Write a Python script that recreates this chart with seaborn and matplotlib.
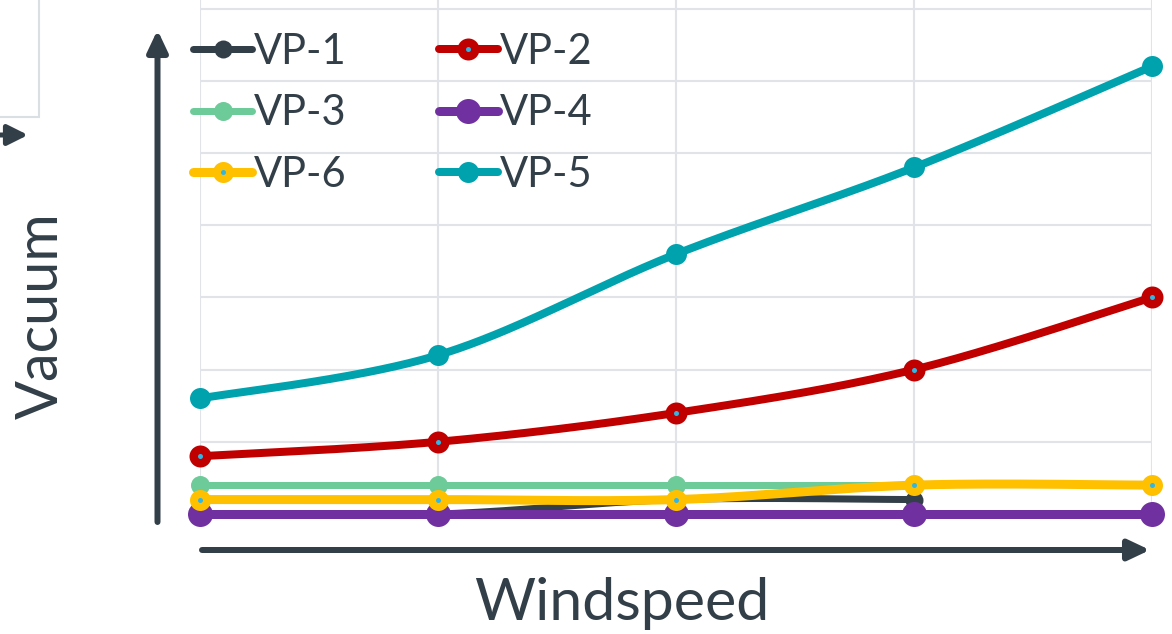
import numpy as np
import matplotlib
matplotlib.use("Agg")
import matplotlib.pyplot as plt
import seaborn as sns
from matplotlib.lines import Line2D
from matplotlib.legend_handler import HandlerTuple
from matplotlib.patches import Rectangle, FancyArrowPatch
from matplotlib.transforms import IdentityTransform

# ---- data -------------------------------------------------------------
windspeed = [0, 1, 2, 3, 4]
vp1 = [0.0, 0.0, 0.2, 0.2]
vp2 = [0.8, 1.0, 1.4, 2.0, 3.0]
vp3 = [0.4, 0.4, 0.4, 0.4]
vp4 = [0.0, 0.0, 0.0, 0.0, 0.0]
vp6 = [0.2, 0.2, 0.2, 0.4, 0.4]
vp5 = [1.6, 2.2, 3.6, 4.8, 6.2]
series_names = ["VP-1", "VP-2", "VP-3", "VP-4", "VP-6", "VP-5"]
series_values = [vp1, vp2, vp3, vp4, vp6, vp5]

# ---- styles -----------------------------------------------------------
INK = "#333F48"
GRID = "#E0E4E9"
DOT = "#2FB6E6"
PX = 0.72  # points per pixel at 100 dpi

styles = {
    "VP-1": dict(color="#333F48", lw=7, ms=18, dot=False),
    "VP-2": dict(color="#C00000", lw=8, ms=22, dot=True),
    "VP-3": dict(color="#6CCB98", lw=7, ms=19, dot=False),
    "VP-4": dict(color="#7030A0", lw=9, ms=25, dot=False),
    "VP-6": dict(color="#FFC000", lw=9, ms=21, dot=True),
    "VP-5": dict(color="#00A2AE", lw=8, ms=21, dot=False),
}


def smooth(xs, ys, n=60):
    """Cubic Bezier smoothing through every point (Catmull-Rom style)."""
    x = np.asarray(xs, float)
    y = np.asarray(ys, float)
    px = np.concatenate([[x[0]], x, [x[-1]]])
    py = np.concatenate([[y[0]], y, [y[-1]]])
    t = np.linspace(0, 1, n)[:, None]
    out = []
    for i in range(len(x) - 1):
        p0 = np.array([px[i + 1], py[i + 1]])
        p3 = np.array([px[i + 2], py[i + 2]])
        c1 = p0 + (np.array([px[i + 2], py[i + 2]]) - np.array([px[i], py[i]])) / 6
        c2 = p3 - (np.array([px[i + 3], py[i + 3]]) - np.array([px[i + 1], py[i + 1]])) / 6
        seg = ((1 - t) ** 3) * p0 + 3 * ((1 - t) ** 2) * t * c1 + 3 * (1 - t) * t ** 2 * c2 + t ** 3 * p3
        out.append(seg if i == 0 else seg[1:])
    pts = np.vstack(out)
    return pts[:, 0], pts[:, 1]


sns.set_theme(style="white")
plt.rcParams["font.family"] = ["Lato", "DejaVu Sans"]

W, H = 1172, 634
fig = plt.figure(figsize=(W / 100, H / 100), dpi=100)
ax = fig.add_axes([200 / W, 120 / H, 952 / W, 514 / H])

for k, (name, vals) in enumerate(zip(series_names, series_values)):
    st = styles[name]
    xs = windspeed[: len(vals)]
    sx, sy = smooth(xs, vals)
    z = 3 + 2 * k
    sns.lineplot(x=sx, y=sy, ax=ax, color=st["color"], linewidth=st["lw"] * PX,
                 sort=False, estimator=None, clip_on=False, zorder=z,
                 solid_capstyle="round")
    ax.plot(xs, vals, "o", ms=st["ms"] * PX, color=st["color"], mec=st["color"],
            mew=0, clip_on=False, zorder=z + 0.5)
    if st["dot"]:
        ax.plot(xs, vals, "o", ms=5 * PX, color=DOT, mew=0, clip_on=False, zorder=z + 0.8)

ax.set_xlim(0, 4)
ax.set_ylim(0, 7.12)
ax.set_xticks(windspeed)
ax.set_yticks(range(8))
ax.grid(True, color=GRID, lw=1.5)
ax.set_axisbelow(True)
ax.tick_params(length=0, labelbottom=False, labelleft=False)
for s in ax.spines.values():
    s.set_visible(False)
ax.set_xlabel("")
ax.set_ylabel("")

# ---- legend -----------------------------------------------------------
def make_handle(name):
    st = styles[name]
    ln = Line2D([], [], color=st["color"], lw=st["lw"] * PX, marker="o",
                ms=st["ms"] * PX, mew=0, solid_capstyle="round")
    if st["dot"]:
        return (ln, Line2D([], [], ls="none", marker="o", ms=5 * PX, color=DOT, mew=0))
    return ln

order = ["VP-1", "VP-3", "VP-6", "VP-2", "VP-4", "VP-5"]
leg = ax.legend([make_handle(n) for n in order], order, ncol=2,
                handler_map={tuple: HandlerTuple(ndivide=1, pad=0)},
                loc="upper left", bbox_to_anchor=(193, H - 33),
                bbox_transform=IdentityTransform(), frameon=False,
                fontsize=30, labelcolor=INK, borderpad=0, borderaxespad=0,
                handlelength=1.42, handletextpad=0.05, columnspacing=2.2,
                labelspacing=0.56, numpoints=1)
leg.set_zorder(30)

# ---- axis labels ------------------------------------------------------
fig.text(622 / W, (H - 603) / H, "Windspeed", ha="center", va="center",
         fontsize=42.5, color=INK)
fig.text(41 / W, (H - 316) / H, "Vacuum", ha="center", va="center",
         rotation=90, fontsize=41.5, color=INK)

# ---- arrows drawn in pixel space --------------------------------------
def arrow(p0, p1, lw_px=6, head_len=18, head_half=8.5):
    a = FancyArrowPatch(p0, p1, transform=IdentityTransform(),
                        arrowstyle=f"-|>,head_length={head_len * PX},head_width={head_half * PX}",
                        mutation_scale=1, lw=lw_px * PX, color=INK,
                        shrinkA=0, shrinkB=0)
    fig.add_artist(a)

arrow((157.5, H - 522), (157.5, H - 30))
arrow((202, H - 550), (1150, H - 550))
arrow((-2, H - 135), (28, H - 135), lw_px=5, head_len=17, head_half=8.5)

fig.add_artist(Rectangle((-10, H - 117), 49, 200, transform=IdentityTransform(),
                         fill=False, ec="#DADFE4", lw=1.5))

fig.savefig("out.png", dpi=100)
